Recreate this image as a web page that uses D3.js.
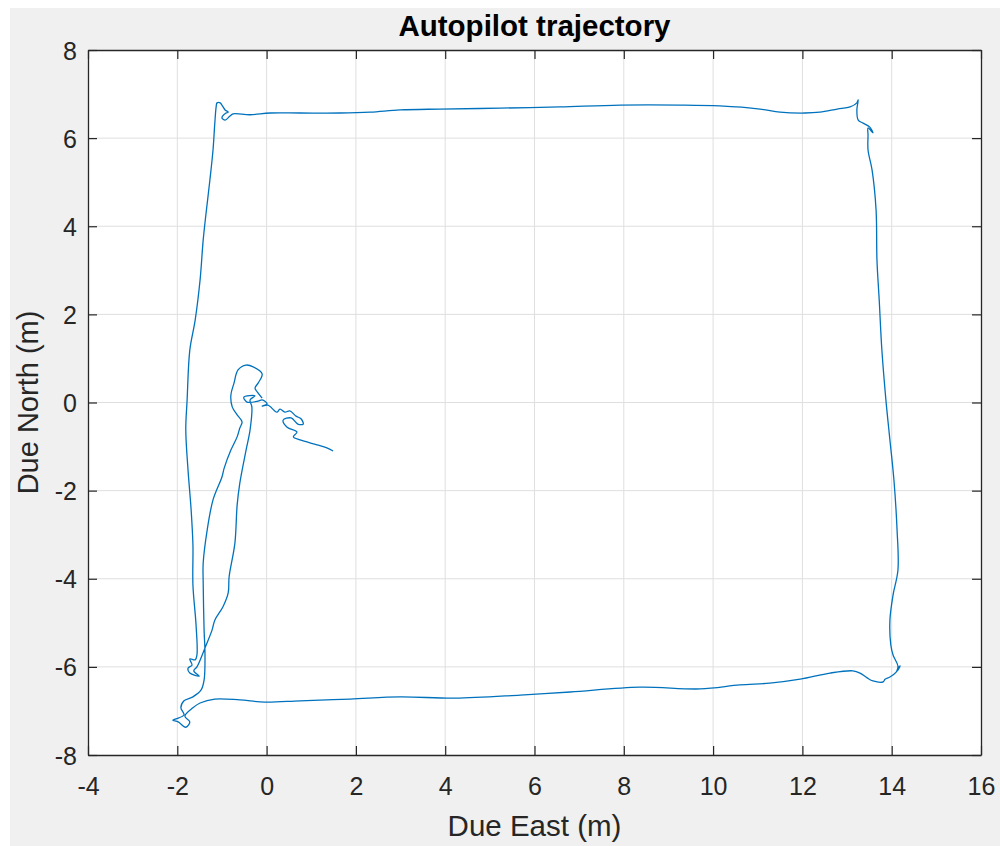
<!DOCTYPE html>
<html><head><meta charset="utf-8">
<script src="https://cdn.jsdelivr.net/npm/d3@7"></script>
<style>
html,body{margin:0;padding:0;background:#fff;}
svg{display:block;}
text{font-family:"Liberation Sans",Arial,Helvetica,sans-serif;}
</style></head>
<body>
<svg id="chart" width="1000" height="846"></svg>
<script>
// ---- data (metres) ----
const east = [
-0.10,-0.21,-0.26,-0.19,-0.10,-0.30,-0.46,-0.64,-0.73,-0.80,-0.77,-0.66,-0.55,-0.60,-0.66,-0.80,-0.95,-1.00,-1.20,-1.33,-1.42,-1.42,-1.40,-1.38,-1.40,-1.47,-1.65,-1.85,-1.92,-1.85,-2.03,-2.10,-1.98,-1.81,-1.72,-1.83,
-1.65,-1.49,-1.16,-0.60,-0.04,0.75,1.87,2.99,4.22,5.68,6.80,8.36,9.71,10.60,11.27,11.95,12.62,13.13,13.29,13.45,13.58,13.81,13.85,13.96,14.10,14.14,14.19,14.12,14.14,
14.03,13.98,13.96,14.03,14.14,14.12,14.05,13.96,13.87,13.78,13.72,13.67,13.65,13.56,13.47,13.47,13.47,13.58,13.51,13.36,13.25,13.22,13.25,
13.22,13.07,12.78,12.39,12.06,11.50,11.05,10.15,9.26,7.92,6.57,5.23,3.88,2.99,2.32,1.64,0.75,0.08,-0.37,-0.75,-0.82,-0.93,-1.00,-0.91,-0.86,-0.93,-1.00,-1.04,-1.11,-1.13,-1.16,-1.20,
-1.27,-1.36,-1.42,-1.49,-1.60,-1.72,-1.78,-1.81,-1.76,-1.69,-1.65,-1.65,-1.58,-1.56,
-1.60,-1.72,-1.67,-1.76,-1.72,-1.51,-1.63,-1.56,
-1.38,-1.22,-1.16,-0.98,-0.86,-0.84,-0.71,-0.66,-0.60,-0.46,-0.37,-0.33,-0.37,
-0.26,-0.51,-0.44,-0.19,-0.10,0.01,-0.10,0.03,0.23,0.30,0.41,0.52,0.66,0.77,0.82,0.70,0.55,0.37,0.46,0.68,0.60,0.75,1.13,1.35,1.49
];
const north = [
0.10,0.24,0.33,0.44,0.65,0.81,0.85,0.74,0.44,0.17,-0.10,-0.28,-0.44,-0.58,-0.78,-1.08,-1.49,-1.69,-2.21,-2.89,-3.64,-4.10,-5.16,-5.69,-6.30,-6.53,-6.68,-6.77,-6.93,-7.09,-7.18,-7.21,-7.25,-7.37,-7.25,-7.12,
-6.93,-6.82,-6.73,-6.75,-6.80,-6.77,-6.73,-6.68,-6.71,-6.64,-6.57,-6.46,-6.50,-6.41,-6.37,-6.28,-6.14,-6.09,-6.14,-6.25,-6.32,-6.34,-6.28,-6.23,-6.12,-6.03,-5.98,-6.10,-5.98,
-5.73,-5.50,-4.94,-4.37,-3.80,-2.89,-1.76,-0.85,0.06,1.19,2.33,3.23,4.37,5.28,5.73,6.07,6.23,6.12,6.25,6.34,6.41,6.64,6.87,
6.80,6.71,6.66,6.59,6.57,6.59,6.66,6.73,6.75,6.75,6.71,6.68,6.66,6.64,6.59,6.57,6.57,6.57,6.53,6.55,6.50,6.41,6.46,6.57,6.59,6.64,6.75,6.80,6.80,6.71,6.34,5.73,
5.05,4.26,3.69,2.78,1.87,1.19,0.06,-0.62,-1.53,-2.44,-3.23,-4.14,-5.05,-5.73,
-5.84,-5.82,-5.96,-6.03,-6.14,-6.21,-6.09,-6.00,
-5.57,-5.16,-4.94,-4.64,-4.32,-3.96,-3.19,-2.33,-1.83,-1.08,-0.62,-0.10,0.06,
0.15,0.12,0.01,0.03,0.06,-0.03,-0.08,-0.06,-0.22,-0.15,-0.22,-0.19,-0.31,-0.37,-0.49,-0.49,-0.35,-0.40,-0.56,-0.67,-0.78,-0.85,-0.96,-1.03,-1.10
];
const xTicks = [-4,-2,0,2,4,6,8,10,12,14,16];
const yTicks = [-8,-6,-4,-2,0,2,4,6,8];
const titleText = "Autopilot trajectory";
const xLabel = "Due East (m)";
const yLabel = "Due North (m)";

// ---- layout ----
const W = 1000, H = 846;
const L = 88, R = 981, T = 50, B = 755;
const axisColor = "#262626";
const svg = d3.select("#chart");

svg.append("rect").attr("x",10).attr("y",8).attr("width",W-10).attr("height",H-8).attr("fill","#f0f0f0");
svg.append("rect").attr("x",L).attr("y",T).attr("width",R-L).attr("height",B-T).attr("fill","#fff");

const x = d3.scaleLinear().domain([-4,16]).range([L,R]);
const y = d3.scaleLinear().domain([-8,8]).range([B,T]);

// grid
const grid = svg.append("g");
grid.selectAll("line.gx").data(xTicks.slice(1,-1)).join("line")
  .attr("x1",d=>x(d)).attr("x2",d=>x(d)).attr("y1",T).attr("y2",B)
  .attr("stroke","#dfdfdf").attr("stroke-width",1);
grid.selectAll("line.gy").data(yTicks.slice(1,-1)).join("line")
  .attr("x1",L).attr("x2",R).attr("y1",d=>y(d)).attr("y2",d=>y(d))
  .attr("stroke","#dfdfdf").attr("stroke-width",1);

// trajectory
const pts = east.map((e,i)=>[e,north[i]]);
svg.append("path").datum(pts)
  .attr("d", d3.line().curve(d3.curveCatmullRom.alpha(0.5)).x(d=>x(d[0])).y(d=>y(d[1])))
  .attr("fill","none").attr("stroke","#0072BD").attr("stroke-width",1.3)
  .attr("stroke-linejoin","round");

// axes
const tickLen = 9;
const fs = 25;
const fmt = d => String(d);
const xb = svg.append("g").attr("transform",`translate(0,${B})`)
  .call(d3.axisBottom(x).tickValues(xTicks).tickSize(0).tickPadding(0).tickFormat(fmt));
const xt = svg.append("g").attr("transform",`translate(0,${T})`)
  .call(d3.axisTop(x).tickValues(xTicks).tickSize(0).tickFormat(""));
const yl = svg.append("g").attr("transform",`translate(${L},0)`)
  .call(d3.axisLeft(y).tickValues(yTicks).tickSize(0).tickPadding(0).tickFormat(fmt));
const yr = svg.append("g").attr("transform",`translate(${R},0)`)
  .call(d3.axisRight(y).tickValues(yTicks).tickSize(0).tickFormat(""));

[xb,xt,yl,yr].forEach(g=>{
  g.select(".domain").attr("stroke",axisColor).attr("stroke-width",1.3);
  g.selectAll("text").attr("fill",axisColor).style("font-size",fs+"px")
   .style("font-family",'"Liberation Sans",Arial,Helvetica,sans-serif');
});
xb.selectAll(".tick line").attr("y1",0).attr("y2",-tickLen).attr("stroke",axisColor).attr("stroke-width",1.2);
xt.selectAll(".tick line").attr("y1",0).attr("y2",tickLen).attr("stroke",axisColor).attr("stroke-width",1.2);
yl.selectAll(".tick line").attr("x1",0).attr("x2",tickLen).attr("stroke",axisColor).attr("stroke-width",1.2);
yr.selectAll(".tick line").attr("x1",0).attr("x2",-tickLen).attr("stroke",axisColor).attr("stroke-width",1.2);
xb.selectAll(".tick text").attr("dy",null).attr("y",40);
yl.selectAll(".tick text").attr("dy",null).attr("x",-11).attr("y",9);

// labels
svg.append("text").attr("x",(L+R)/2).attr("y",836).attr("text-anchor","middle")
  .attr("fill",axisColor).style("font-size","29.5px").text(xLabel);
svg.append("text").attr("transform",`translate(38,${(T+B)/2}) rotate(-90)`).attr("text-anchor","middle")
  .attr("fill",axisColor).style("font-size","29px").text(yLabel);
svg.append("text").attr("x",(L+R)/2).attr("y",36).attr("text-anchor","middle")
  .attr("fill","#000").style("font-size","29.5px").style("font-weight","bold").text(titleText);
</script>
</body></html>
